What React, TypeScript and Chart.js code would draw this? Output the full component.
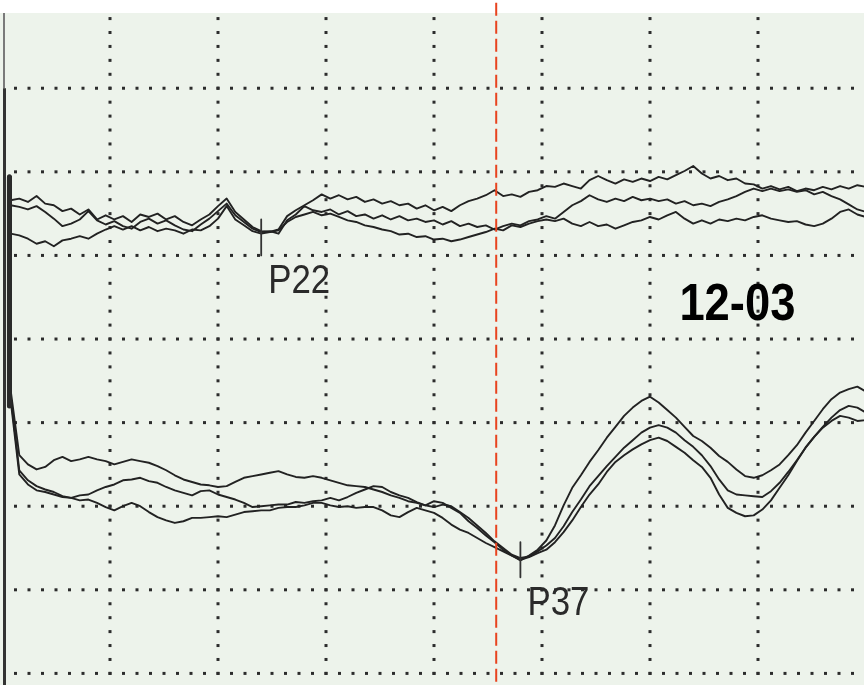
import React, { useEffect, useRef } from "react";
import { Chart, registerables } from "chart.js";

Chart.register(...registerables);

// ---- sweep / scale definition ----
const SWEEP_START_MS = 7;
const SWEEP_END_MS = 57;
const MS_PER_DIV = 6.25;
const UNITS_PER_DIV = 10;
const Y_MIN = 0;
const Y_MAX = 89;
const SAMPLE_START_MS = 7.5;
const SAMPLE_STEP_MS = 0.5;
const ONSET_LEVEL = 69.4;

// stimulus artifact bar
const artifactMs = 7.43;
const artifactTop = 69.4;
const artifactBottom = 42.0;

// cursor
const cursorMs = 35.6;

// peak markers
const markerLabels = ["P22", "P37"];
const markerLatencyMs = [22, 37];
const markerTop = [64.3, 25.7];
const markerBottom = [60.0, 21.5];

const recordLabel = "12-03";

// ---- upper channel: three superimposed trials ----
const upperA = [
  66.6, 66.8, 66.4, 67.1, 66.2, 66.0, 65.3, 65.6, 64.9, 65.5,
  64.3, 64.8, 64.3, 64.7, 64.0, 64.9, 64.6, 65.0, 64.3, 64.7,
  64.0, 63.6, 64.3, 64.9, 65.9, 66.8, 65.2, 64.3, 63.4, 62.9,
  62.8, 63.1, 64.7, 65.4, 66.0, 66.6, 67.3, 66.8, 67.2, 66.7,
  67.0, 66.4, 66.7, 66.2, 66.5, 66.0, 66.2, 65.6, 66.0, 65.4,
  65.8, 65.3, 66.0, 66.5, 66.8, 67.2, 67.8, 67.1, 67.3, 67.0,
  67.6, 67.8, 68.3, 68.2, 68.6, 68.3, 68.0, 69.0, 69.5, 69.0,
  68.6, 69.1, 68.8, 69.2, 68.9, 69.4, 69.1, 69.6, 70.1, 70.7,
  69.8, 69.2, 69.5, 69.0, 69.2, 68.6, 68.5, 68.0, 68.3, 67.9,
  68.2, 67.7, 68.0, 67.8, 68.2, 67.9, 68.3, 68.0, 68.4, 68.2,
];
const upperB = [
  66.0, 65.8, 65.5, 65.9, 65.2, 64.4, 63.5, 63.8, 64.3, 65.3,
  64.2, 63.7, 64.1, 63.5, 63.2, 64.0, 64.4, 63.8, 64.2, 63.6,
  63.1, 62.9, 63.7, 64.4, 65.3, 66.2, 64.8, 64.0, 63.2, 62.8,
  62.9, 62.6, 64.2, 64.9, 65.9, 65.4, 65.2, 65.5, 64.9, 65.3,
  64.7, 64.9, 64.4, 64.8, 64.3, 64.7, 64.2, 64.4, 64.0, 64.2,
  63.7, 64.1, 63.5, 63.8, 63.4, 63.6, 63.1, 63.5, 63.8, 63.6,
  64.1, 64.3, 64.7, 64.4, 65.2, 66.0, 66.5, 67.2, 66.7, 66.4,
  66.8, 66.5, 67.0, 66.6, 66.8, 66.5, 66.7, 66.2, 66.5, 66.0,
  66.2, 65.9, 66.4, 66.7, 67.1, 67.6, 68.0, 67.7, 68.0, 67.7,
  67.9, 67.6, 67.8, 67.3, 67.6, 67.1, 66.7, 66.1, 65.5, 65.2,
];
const upperC = [
  62.6, 62.4, 62.0, 61.4, 61.7, 61.1, 61.8, 62.0, 62.3, 62.0,
  62.6, 63.1, 63.5, 63.1, 63.5, 63.0, 63.4, 62.9, 63.2, 63.0,
  62.6, 63.1, 63.0, 63.5, 64.4, 65.9, 64.3, 63.6, 62.9, 62.6,
  62.8, 63.0, 64.0, 64.6, 64.9, 65.2, 64.8, 65.0, 64.6, 64.2,
  64.0, 63.6, 63.4, 63.1, 62.9, 62.5, 62.6, 62.2, 62.3, 61.9,
  62.0, 61.7, 61.9, 62.2, 62.5, 62.8, 63.2, 63.0, 63.6, 63.4,
  63.8, 64.1, 64.3, 64.1, 64.4, 63.8, 63.5, 64.0, 63.5, 63.7,
  63.2, 63.6, 64.0, 64.2, 64.6, 64.3, 64.8, 65.2, 64.4, 63.8,
  64.2, 63.8, 64.3, 64.1, 64.4, 64.2, 64.6, 64.8, 64.4, 64.2,
  64.0, 64.1, 63.7, 63.5, 63.8, 64.4, 65.2, 65.5, 64.9, 64.6,
];

// ---- lower channel: three superimposed trials ----
const lowerD = [
  43.9, 36.1, 35.0, 34.4, 34.7, 35.5, 35.9, 35.4, 35.6, 35.9,
  35.6, 35.4, 35.0, 35.3, 35.6, 35.4, 35.2, 34.8, 34.3, 33.7,
  33.2, 32.9, 32.6, 32.5, 32.3, 32.4, 32.9, 33.4, 33.6, 33.8,
  34.0, 34.2, 33.8, 33.5, 33.4, 33.6, 33.4, 33.1, 32.8, 32.5,
  32.4, 32.3, 32.0, 31.7, 31.3, 31.0, 30.6, 30.4, 30.1, 30.6,
  30.4, 29.8, 29.2, 28.2, 27.4, 26.5, 25.7, 24.8, 24.1, 23.5,
  24.1, 24.8, 25.9, 27.7, 30.1, 32.2, 33.7, 35.3, 36.7, 38.2,
  39.5, 40.8, 41.8, 42.6, 43.1, 42.4, 41.5, 40.6, 39.5, 38.4,
  37.8, 37.0, 36.0, 35.3, 34.4, 33.6, 33.4, 33.7, 34.3, 35.0,
  36.1, 37.3, 38.8, 40.2, 41.6, 42.8, 43.6, 44.0, 44.3, 43.7,
];
const lowerE = [
  43.3, 34.3, 33.1, 32.4, 32.0, 31.7, 31.2, 31.0, 31.3, 31.4,
  31.9, 32.3, 32.6, 33.1, 33.2, 33.4, 33.0, 32.8, 32.3, 31.9,
  31.6, 31.3, 31.8, 31.9, 31.4, 31.1, 30.8, 30.4, 29.9, 30.0,
  30.1, 30.2, 30.2, 30.5, 30.4, 30.6, 30.7, 31.0, 30.7, 31.1,
  31.6, 32.0, 32.4, 32.3, 31.7, 31.3, 31.0, 30.5, 30.1, 29.9,
  30.2, 30.0, 29.3, 28.6, 27.7, 26.8, 25.8, 25.0, 24.2, 23.8,
  24.0, 24.6, 25.3, 26.2, 27.6, 29.3, 30.8, 32.4, 33.6, 34.8,
  35.9, 37.0, 37.9, 38.8, 39.4, 39.7, 39.4, 38.8, 37.9, 37.1,
  36.1, 34.8, 33.2, 31.9, 31.4, 31.3, 31.2, 31.1, 31.8, 32.8,
  34.1, 35.5, 37.0, 38.3, 39.5, 40.6, 41.5, 42.0, 41.8, 41.2,
];
const lowerF = [
  42.7, 33.8, 32.6, 31.9, 31.7, 31.4, 31.1, 31.0, 30.7, 30.8,
  30.4, 29.9, 29.5, 30.0, 30.4, 30.0, 29.3, 28.7, 28.3, 28.0,
  28.2, 28.6, 28.6, 28.7, 28.8, 28.7, 29.0, 29.3, 29.4, 29.5,
  29.5, 29.8, 29.9, 29.9, 30.1, 30.4, 30.4, 30.1, 29.9, 30.0,
  29.8, 29.9, 29.9, 29.5, 28.9, 28.7, 29.3, 29.8, 29.5, 29.2,
  28.6, 27.8, 27.2, 26.8, 26.2, 25.6, 25.1, 24.6, 24.1, 23.6,
  23.9, 24.4, 24.8, 25.7, 26.9, 28.3, 29.9, 31.4, 32.6, 34.1,
  35.3, 36.1, 36.8, 37.4, 37.9, 38.2, 37.8, 37.1, 36.4, 35.5,
  34.7, 33.4, 31.4, 29.8, 29.2, 28.8, 28.9, 29.6, 30.7, 32.2,
  33.7, 35.4, 37.0, 38.3, 39.4, 40.2, 40.8, 40.6, 40.2, 40.3,
];

const traces = [upperA, upperB, upperC, lowerD, lowerE, lowerF];

// ---- styles ----
const PAPER = "#edf3eb";
const INK = "#222222";
const DOT = "#2c2c2c";
const CURSOR = "#e8431f";

const toPoints = (vals: number[]) => [
  { x: SAMPLE_START_MS, y: ONSET_LEVEL },
  ...vals.map((v, i) => ({ x: SAMPLE_START_MS + i * SAMPLE_STEP_MS, y: v })),
];

function drawFitted(ctx: CanvasRenderingContext2D, text: string, x: number, y: number, font: string, width: number) {
  ctx.save();
  ctx.font = font;
  const w = ctx.measureText(text).width;
  ctx.translate(x, y);
  ctx.scale(width / w, 1);
  ctx.textBaseline = "alphabetic";
  ctx.textAlign = "left";
  ctx.fillText(text, 0, 0);
  ctx.restore();
}

const paperPlugin = {
  id: "paper",
  beforeDraw(chart: any) {
    const { ctx, chartArea, width, height, scales } = chart;
    const xs = scales.x;
    const ys = scales.y;
    ctx.save();
    ctx.fillStyle = "#ffffff";
    ctx.fillRect(0, 0, width, height);
    ctx.fillStyle = PAPER;
    ctx.fillRect(0, chartArea.top, width, height - chartArea.top);

    // dotted grid
    const dot = 3;
    ctx.fillStyle = DOT;
    const xStep = xs.getPixelForValue(SWEEP_START_MS + MS_PER_DIV / 8) - xs.getPixelForValue(SWEEP_START_MS);
    const yStep = ys.getPixelForValue(Y_MIN) - ys.getPixelForValue(Y_MIN + UNITS_PER_DIV / 6);
    const nX = Math.round((SWEEP_END_MS - SWEEP_START_MS) / MS_PER_DIV);
    for (let g = 1; g < nX; g++) {
      const px = xs.getPixelForValue(SWEEP_START_MS + g * MS_PER_DIV);
      for (let py = ys.getPixelForValue(Y_MIN); py >= chartArea.top + 2; py -= yStep) {
        ctx.fillRect(px - dot / 2, py - dot / 2, dot, dot);
      }
    }
    for (let v = Y_MIN + UNITS_PER_DIV; v < Y_MAX; v += UNITS_PER_DIV) {
      const py = ys.getPixelForValue(v);
      for (let px = xs.getPixelForValue(SWEEP_START_MS) + xStep; px <= width; px += xStep) {
        ctx.fillRect(px - dot / 2, py - dot / 2, dot, dot);
      }
    }

    // left axis line: faint above the top grid row, solid below it
    const axisX = xs.getPixelForValue(SWEEP_START_MS) + 1;
    const topRow = ys.getPixelForValue(Y_MIN + 8 * UNITS_PER_DIV);
    ctx.fillStyle = "#7a7a7a";
    ctx.fillRect(axisX, chartArea.top, 2, topRow - chartArea.top);
    ctx.fillStyle = "#333333";
    ctx.fillRect(axisX, topRow, 3, height - topRow);
    ctx.restore();
  },
  afterDatasetsDraw(chart: any) {
    const { ctx, scales } = chart;
    const xs = scales.x;
    const ys = scales.y;
    ctx.save();
    ctx.fillStyle = "#2a2a2a";
    markerLabels.forEach((label, i) => {
      const x = xs.getPixelForValue(markerLatencyMs[i]) + 7;
      const y = ys.getPixelForValue(markerBottom[i]) + 38;
      drawFitted(ctx, label, x, y, "40px 'Liberation Sans', Arial, sans-serif", 62);
    });
    ctx.fillStyle = "#000000";
    drawFitted(
      ctx,
      recordLabel,
      xs.getPixelForValue(46.2),
      ys.getPixelForValue(52.3),
      "bold 51px 'Liberation Sans', Arial, sans-serif",
      116
    );
    ctx.restore();
  },
};

export default function App() {
  const ref = useRef<HTMLCanvasElement>(null);

  useEffect(() => {
    if (!ref.current) return;
    const traceSets = traces.map((vals, i) => ({
      label: `trial ${i + 1}`,
      data: toPoints(vals),
      borderColor: INK,
      borderWidth: 1.9,
      pointRadius: 0,
      tension: 0,
      order: 2,
    }));
    const markerSets = markerLabels.map((label, i) => ({
      label,
      data: [
        { x: markerLatencyMs[i], y: markerTop[i] },
        { x: markerLatencyMs[i], y: markerBottom[i] },
      ],
      borderColor: "#333333",
      borderWidth: 1.8,
      pointRadius: 0,
      order: 1,
    }));
    const chart = new Chart(ref.current, {
      type: "line",
      data: {
        datasets: [
          {
            label: "cursor",
            data: [
              { x: cursorMs, y: Y_MAX + 12 },
              { x: cursorMs, y: Y_MIN - 12 },
            ],
            borderColor: CURSOR,
            borderWidth: 2,
            borderDash: [13, 5],
            pointRadius: 0,
            clip: false,
            order: 0,
          },
          {
            label: "artifact",
            data: [
              { x: artifactMs, y: artifactTop },
              { x: artifactMs, y: artifactBottom },
            ],
            borderColor: "#2a2a2a",
            borderWidth: 5,
            pointRadius: 0,
            order: 1,
          },
          ...markerSets,
          ...traceSets,
        ] as any,
      },
      options: {
        responsive: false,
        maintainAspectRatio: false,
        animation: false,
        devicePixelRatio: 1,
        events: [],
        layout: { padding: { left: 2, top: 13, right: 2, bottom: 3 } },
        plugins: {
          legend: { display: false },
          tooltip: { enabled: false },
          title: { display: false },
        },
        scales: {
          x: { type: "linear", min: SWEEP_START_MS, max: SWEEP_END_MS, display: false },
          y: { type: "linear", min: Y_MIN, max: Y_MAX, display: false },
        },
        elements: { line: { borderJoinStyle: "round" } },
      } as any,
      plugins: [paperPlugin as any],
    });
    return () => chart.destroy();
  }, []);

  return (
    <div
      style={{
        position: "fixed",
        left: 0,
        top: 0,
        width: 864,
        height: 685,
        overflow: "hidden",
        background: "#ffffff",
      }}
    >
      <canvas ref={ref} width={868} height={760} style={{ display: "block", width: 868, height: 760 }} />
    </div>
  );
}
